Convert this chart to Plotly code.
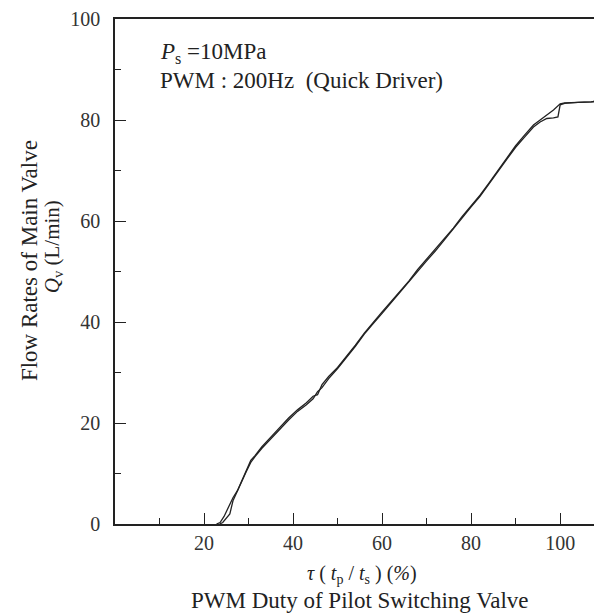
import plotly.graph_objects as go

# duty ratio (%) vs main valve flow (L/min)
duty_up = [22.8, 23.6, 24.5, 25.5, 26.5, 27.5, 28.5, 29.5, 30.5, 31.5, 33.0, 35.0,
           37.0, 39.0, 41.0, 43.0, 44.5, 45.5, 46.5, 48.0, 50.0, 52.0, 54.0, 56.0,
           58.0, 60.0, 62.0, 64.0, 66.0, 68.0, 70.0, 72.0, 74.0, 76.0, 78.0, 80.0,
           82.0, 84.0, 86.0, 88.0, 90.0, 92.0, 94.0, 95.5, 97.0, 98.5, 100.0, 101.0,
           104.0, 107.0, 110.0]
flow_up = [0.0, 0.3, 1.5, 3.5, 5.2, 6.6, 8.6, 10.8, 12.6, 13.6, 15.3, 17.2,
           19.2, 21.0, 22.6, 24.0, 25.3, 25.6, 27.6, 29.2, 31.0, 33.1, 35.4, 37.8,
           40.0, 42.0, 44.0, 46.0, 48.1, 50.4, 52.4, 54.4, 56.5, 58.6, 60.9, 63.0,
           65.1, 67.5, 69.9, 72.4, 74.9, 77.0, 79.0, 80.0, 81.0, 82.0, 83.2, 83.4,
           83.5, 83.6, 83.9]

duty_down = [110.0, 107.0, 104.0, 101.0, 100.0, 99.5, 98.5, 97.0, 95.5, 94.0, 92.0,
             90.0, 88.0, 86.0, 84.0, 82.0, 80.0, 78.0, 76.0, 74.0, 72.0, 70.0, 68.0,
             66.0, 64.0, 62.0, 60.0, 58.0, 56.0, 54.0, 52.0, 50.0, 48.0, 46.5, 45.5,
             44.5, 43.0, 41.0, 39.0, 37.0, 35.0, 33.0, 31.5, 30.5, 29.5, 28.5, 27.5,
             26.5, 25.8, 25.0, 24.2, 23.5]
flow_down = [83.9, 83.6, 83.5, 83.3, 83.0, 80.6, 80.4, 80.3, 79.6, 78.6, 76.6,
             74.6, 72.2, 69.7, 67.3, 64.9, 62.8, 60.6, 58.3, 56.2, 54.1, 52.1, 50.0,
             47.8, 45.8, 43.7, 41.7, 39.7, 37.6, 35.2, 32.9, 30.8, 28.8, 27.0, 26.2,
             24.8, 23.6, 22.3, 20.6, 18.8, 16.9, 15.0, 13.4, 12.2, 10.4, 8.4, 6.4,
             4.6, 2.0, 1.2, 0.3, 0.0]

# the page body has an 8px margin, so the figure is sized to fill the rest
OFF = 8
W, H = 594, 606
L, R, T, B = 107, 0, 5, 90
FONT = "Liberation Serif, Times New Roman, serif"
INK = "#222222"


def px(x):
    return (x - OFF - L) / (W - L - R)


def py(y):
    return (H - B - (y - OFF)) / (H - T - B)


fig = go.Figure()
fig.add_trace(go.Scatter(x=duty_up, y=flow_up, mode="lines",
                         line=dict(color=INK, width=1.3), showlegend=False))
fig.add_trace(go.Scatter(x=duty_down, y=flow_down, mode="lines",
                         line=dict(color=INK, width=1.3), showlegend=False))

axis_common = dict(
    showgrid=False, zeroline=False, showline=True, linecolor=INK, linewidth=1.5,
    ticks="inside", ticklen=11, tickcolor=INK, tickwidth=1.2,
    tickfont=dict(family=FONT, size=20, color="#333333"),
    ticklabeloverflow="allow",
)
fig.update_xaxes(range=[0, 109.4], mirror=True,
                 tickvals=[20, 40, 60, 80, 100],
                 minor=dict(ticks="inside", ticklen=6, tickcolor=INK, dtick=10, tick0=0),
                 **axis_common)
fig.update_yaxes(range=[0, 100], tick0=0, dtick=20, ticklabelstandoff=9,
                 minor=dict(ticks="inside", ticklen=6, tickcolor=INK, dtick=10, tick0=0),
                 **axis_common)

texts = [
    (158, 47, "left", 0, 23, "<i>P</i><sub>s</sub> =10MPa"),
    (158, 75, "left", 0, 23, "PWM : 200Hz  (Quick Driver)"),
    (362, 575, "center", 0, 20, "<i>τ</i> ( <i>t</i><sub>p</sub> / <i>t</i><sub>s</sub> ) (<i>%</i>)"),
    (360, 601, "center", 0, 23, "PWM Duty of Pilot Switching Valve"),
    (29, 258, "center", -90, 23, "Flow Rates of Main Valve"),
    (53, 244, "center", -90, 21, "<i>Q</i><sub>v</sub> (L/min)"),
]
for x, y, anchor, ang, size, t in texts:
    fig.add_annotation(x=px(x), y=py(y), xref="paper", yref="paper", text=t,
                       showarrow=False, xanchor=anchor, yanchor="middle",
                       textangle=ang, font=dict(family=FONT, size=size, color=INK))

fig.update_layout(
    width=W, height=H, margin=dict(l=L, r=R, t=T, b=B),
    plot_bgcolor="white", paper_bgcolor="white",
)

fig.write_html("out.html")
